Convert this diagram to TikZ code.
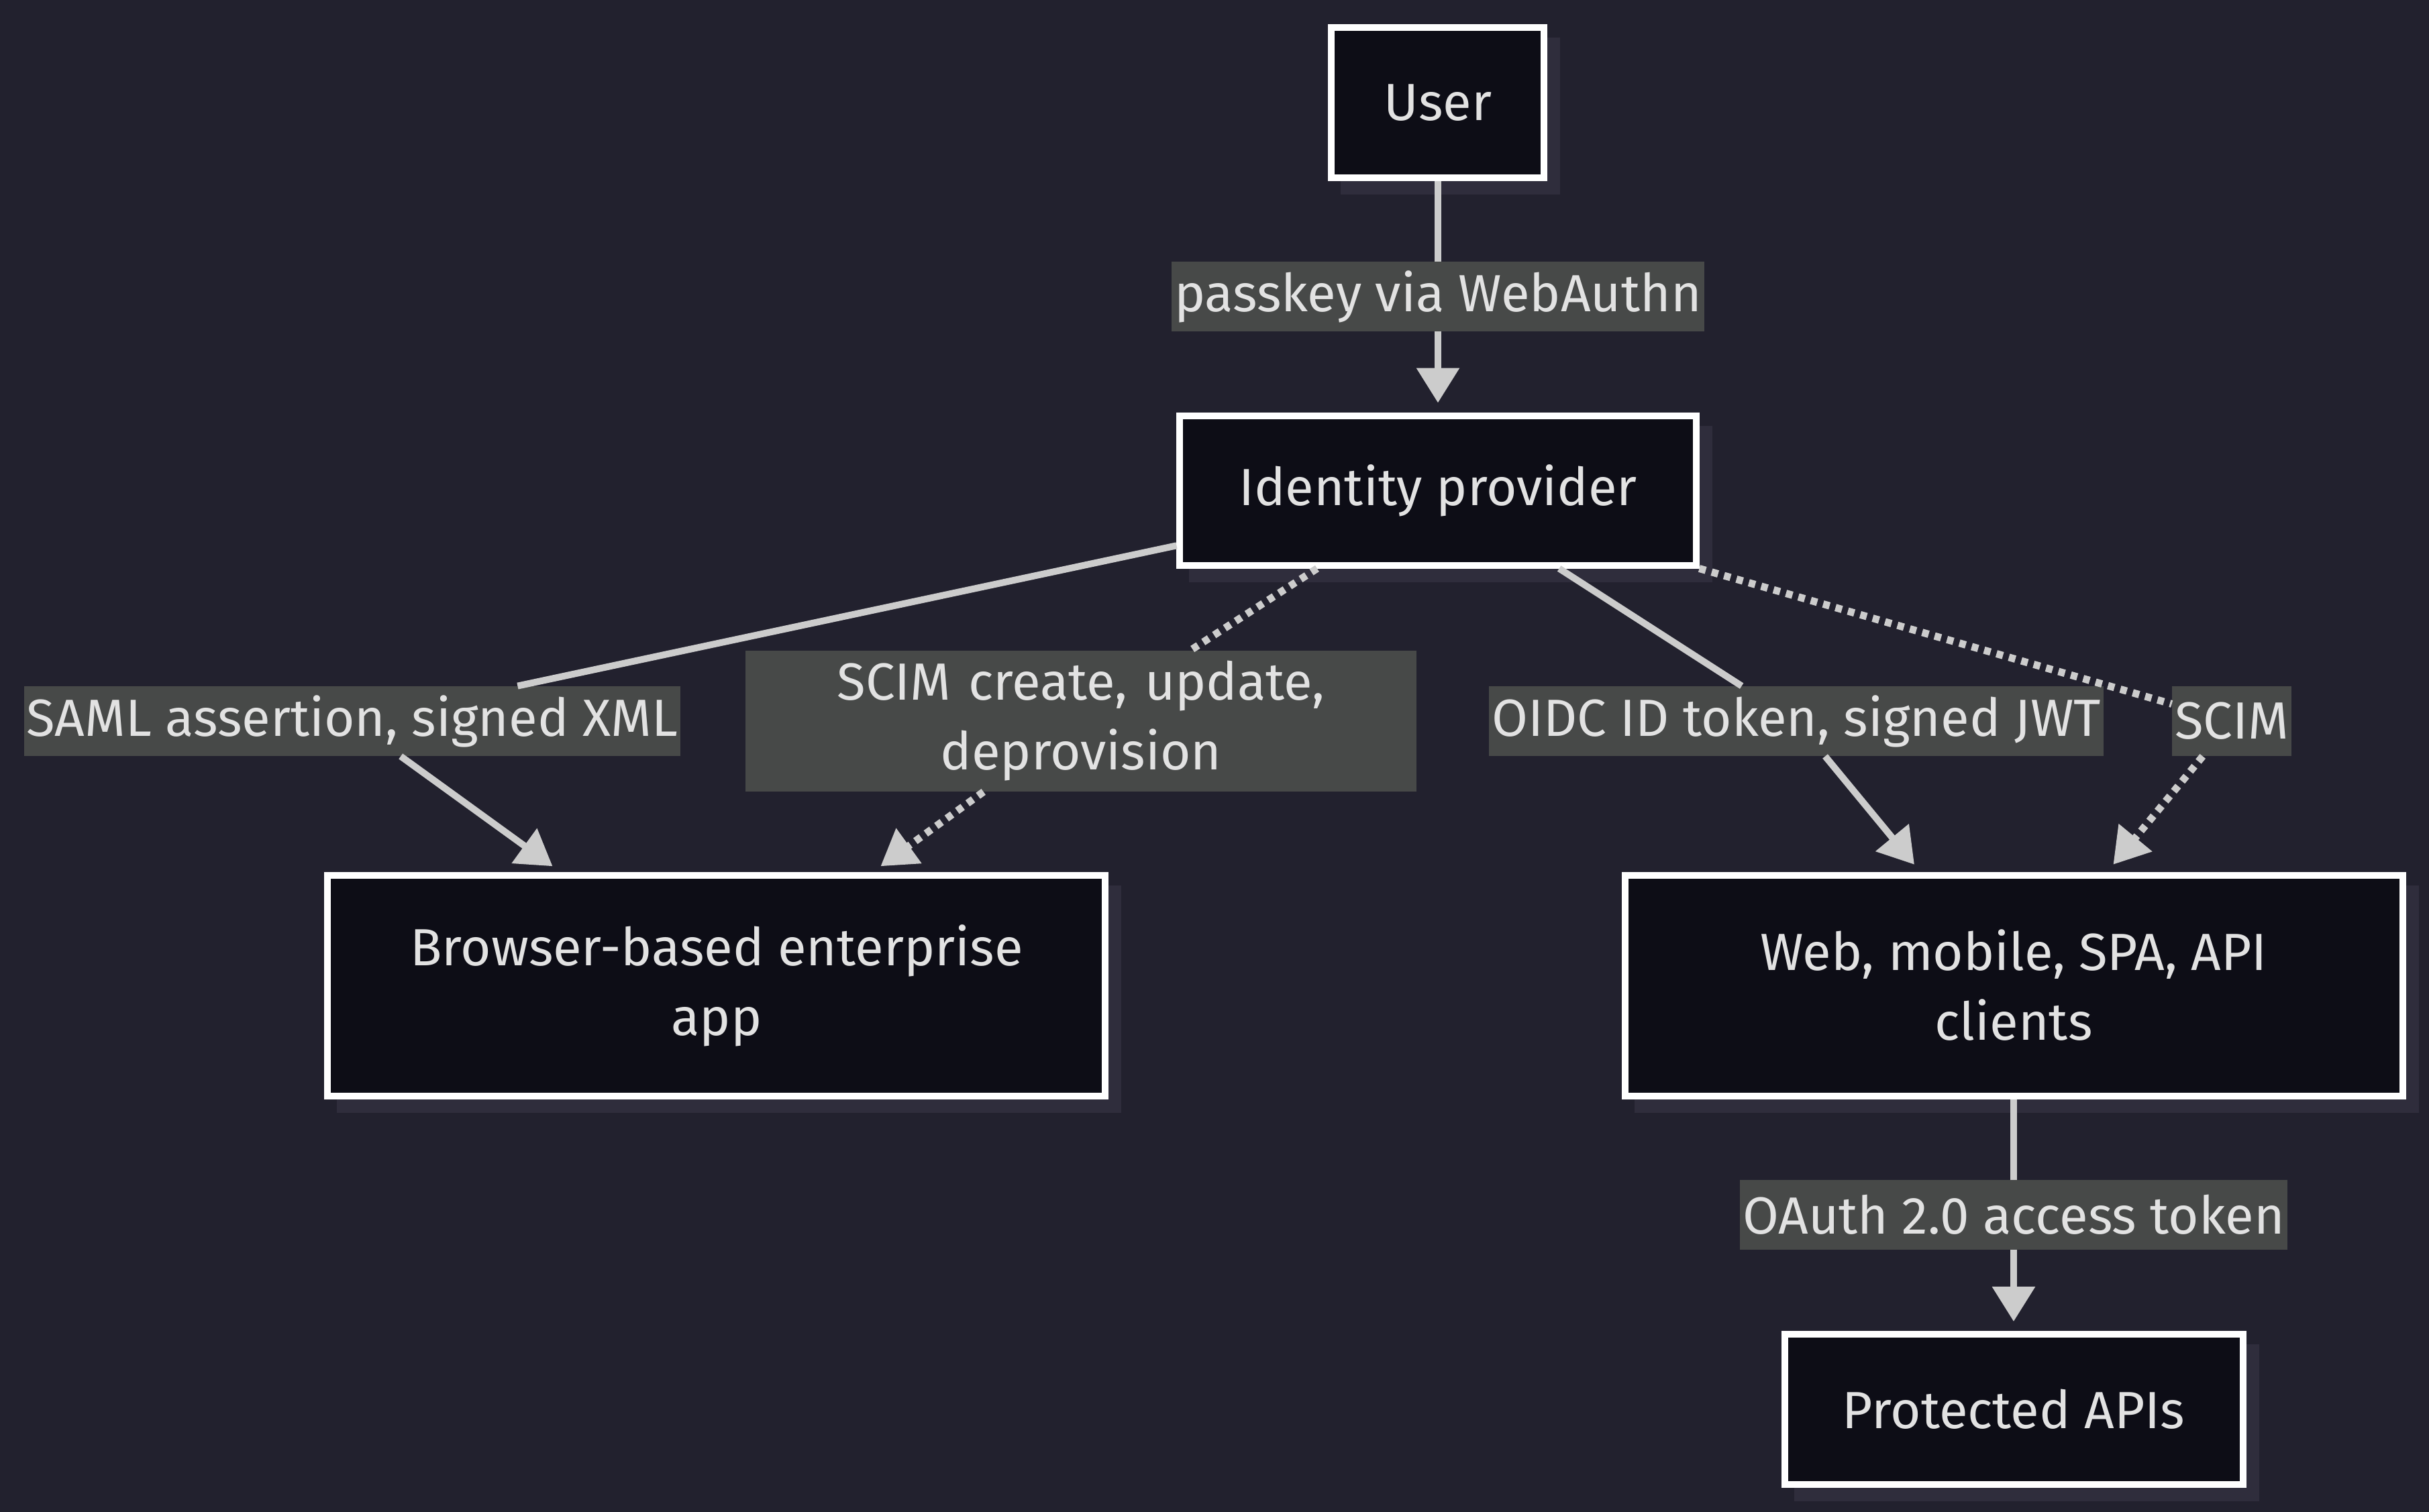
\documentclass[tikz,border=0pt]{standalone}
\usepackage{fontspec}
\setmainfont{Fira Sans}
\usepackage{tikz}
\usetikzlibrary{arrows.meta,positioning,shadows}
\definecolor{bgc}{HTML}{22212E}
\definecolor{boxc}{HTML}{0D0D16}
\definecolor{shadowc}{HTML}{2F2D3C}
\definecolor{lblc}{HTML}{474948}
\definecolor{txtc}{HTML}{E2E2E2}
\definecolor{edgec}{HTML}{CCCCCC}

\begin{document}
\begin{tikzpicture}[on grid, font=\fontsize{39}{52}\selectfont, text=txtc]
\tikzstyle{box}=[rectangle, draw=white, line width=5pt, fill=boxc, align=center, drop shadow={shadow xshift=9.5pt, shadow yshift=-10pt, fill=shadowc, draw=shadowc, line width=5pt, opacity=1}]
\tikzstyle{lbl}=[rectangle, fill=lblc, inner xsep=2pt, inner ysep=0pt, minimum height=52pt, align=center]
\tikzstyle{arrow}=[-{Triangle[length=26pt,width=31pt]}, line width=5pt, draw=edgec, shorten >=7pt]
\tikzstyle{dotarrow}=[arrow, line width=5.5pt, dash pattern=on 5pt off 4.6pt]
\path[use as bounding box, fill=bgc] (-1071.5pt,76.5pt) rectangle (738.5pt,-1050.5pt);
\node (user) [box, minimum width=158.5pt, minimum height=112pt] at (0,0) {User};
\node (idp) [box, below=289pt of user, minimum width=384.5pt, minimum height=111.5pt] {Identity provider};
\node (browser) [box, below left=369pt and 537.5pt of idp, minimum width=579.5pt, minimum height=164.5pt] {Browser-based enterprise\\app};
\node (web) [box, below right=369pt and 429pt of idp, minimum width=579.5pt, minimum height=164.5pt] {Web, mobile, SPA, API\\clients};
\node (prot) [box, below=316pt of web, minimum width=341.5pt, minimum height=112pt] {Protected APIs};
% edge labels
\node (lpass) [lbl, below=144.5pt of user] {passkey via WebAuthn};
\node (lsaml) [lbl, below left=172pt and 809pt of idp] {SAML assertion, signed XML};
\node (lscimc) [lbl, below left=172pt and 266pt of idp, text width=496pt, minimum height=105pt] {SCIM create, update,\\deprovision};
\node (loidc) [lbl, below right=172pt and 267pt of idp] {OIDC ID token, signed JWT};
\node (lscim) [lbl, below right=172pt and 591.5pt of idp] {SCIM};
\node (loauth) [lbl, below=171pt of web] {OAuth 2.0 access token};
\draw[arrow] (user) -- (lpass) -- (idp);
\draw[arrow] (idp) -- (lsaml) -- (browser);
\draw[dotarrow] (idp) -- (lscimc) -- (browser);
\draw[arrow] (idp) -- (loidc) -- (web);
\draw[dotarrow] (idp.south east) -- (lscim) -- (web);
\draw[arrow] (web) -- (loauth) -- (prot);
\end{tikzpicture}
\end{document}
